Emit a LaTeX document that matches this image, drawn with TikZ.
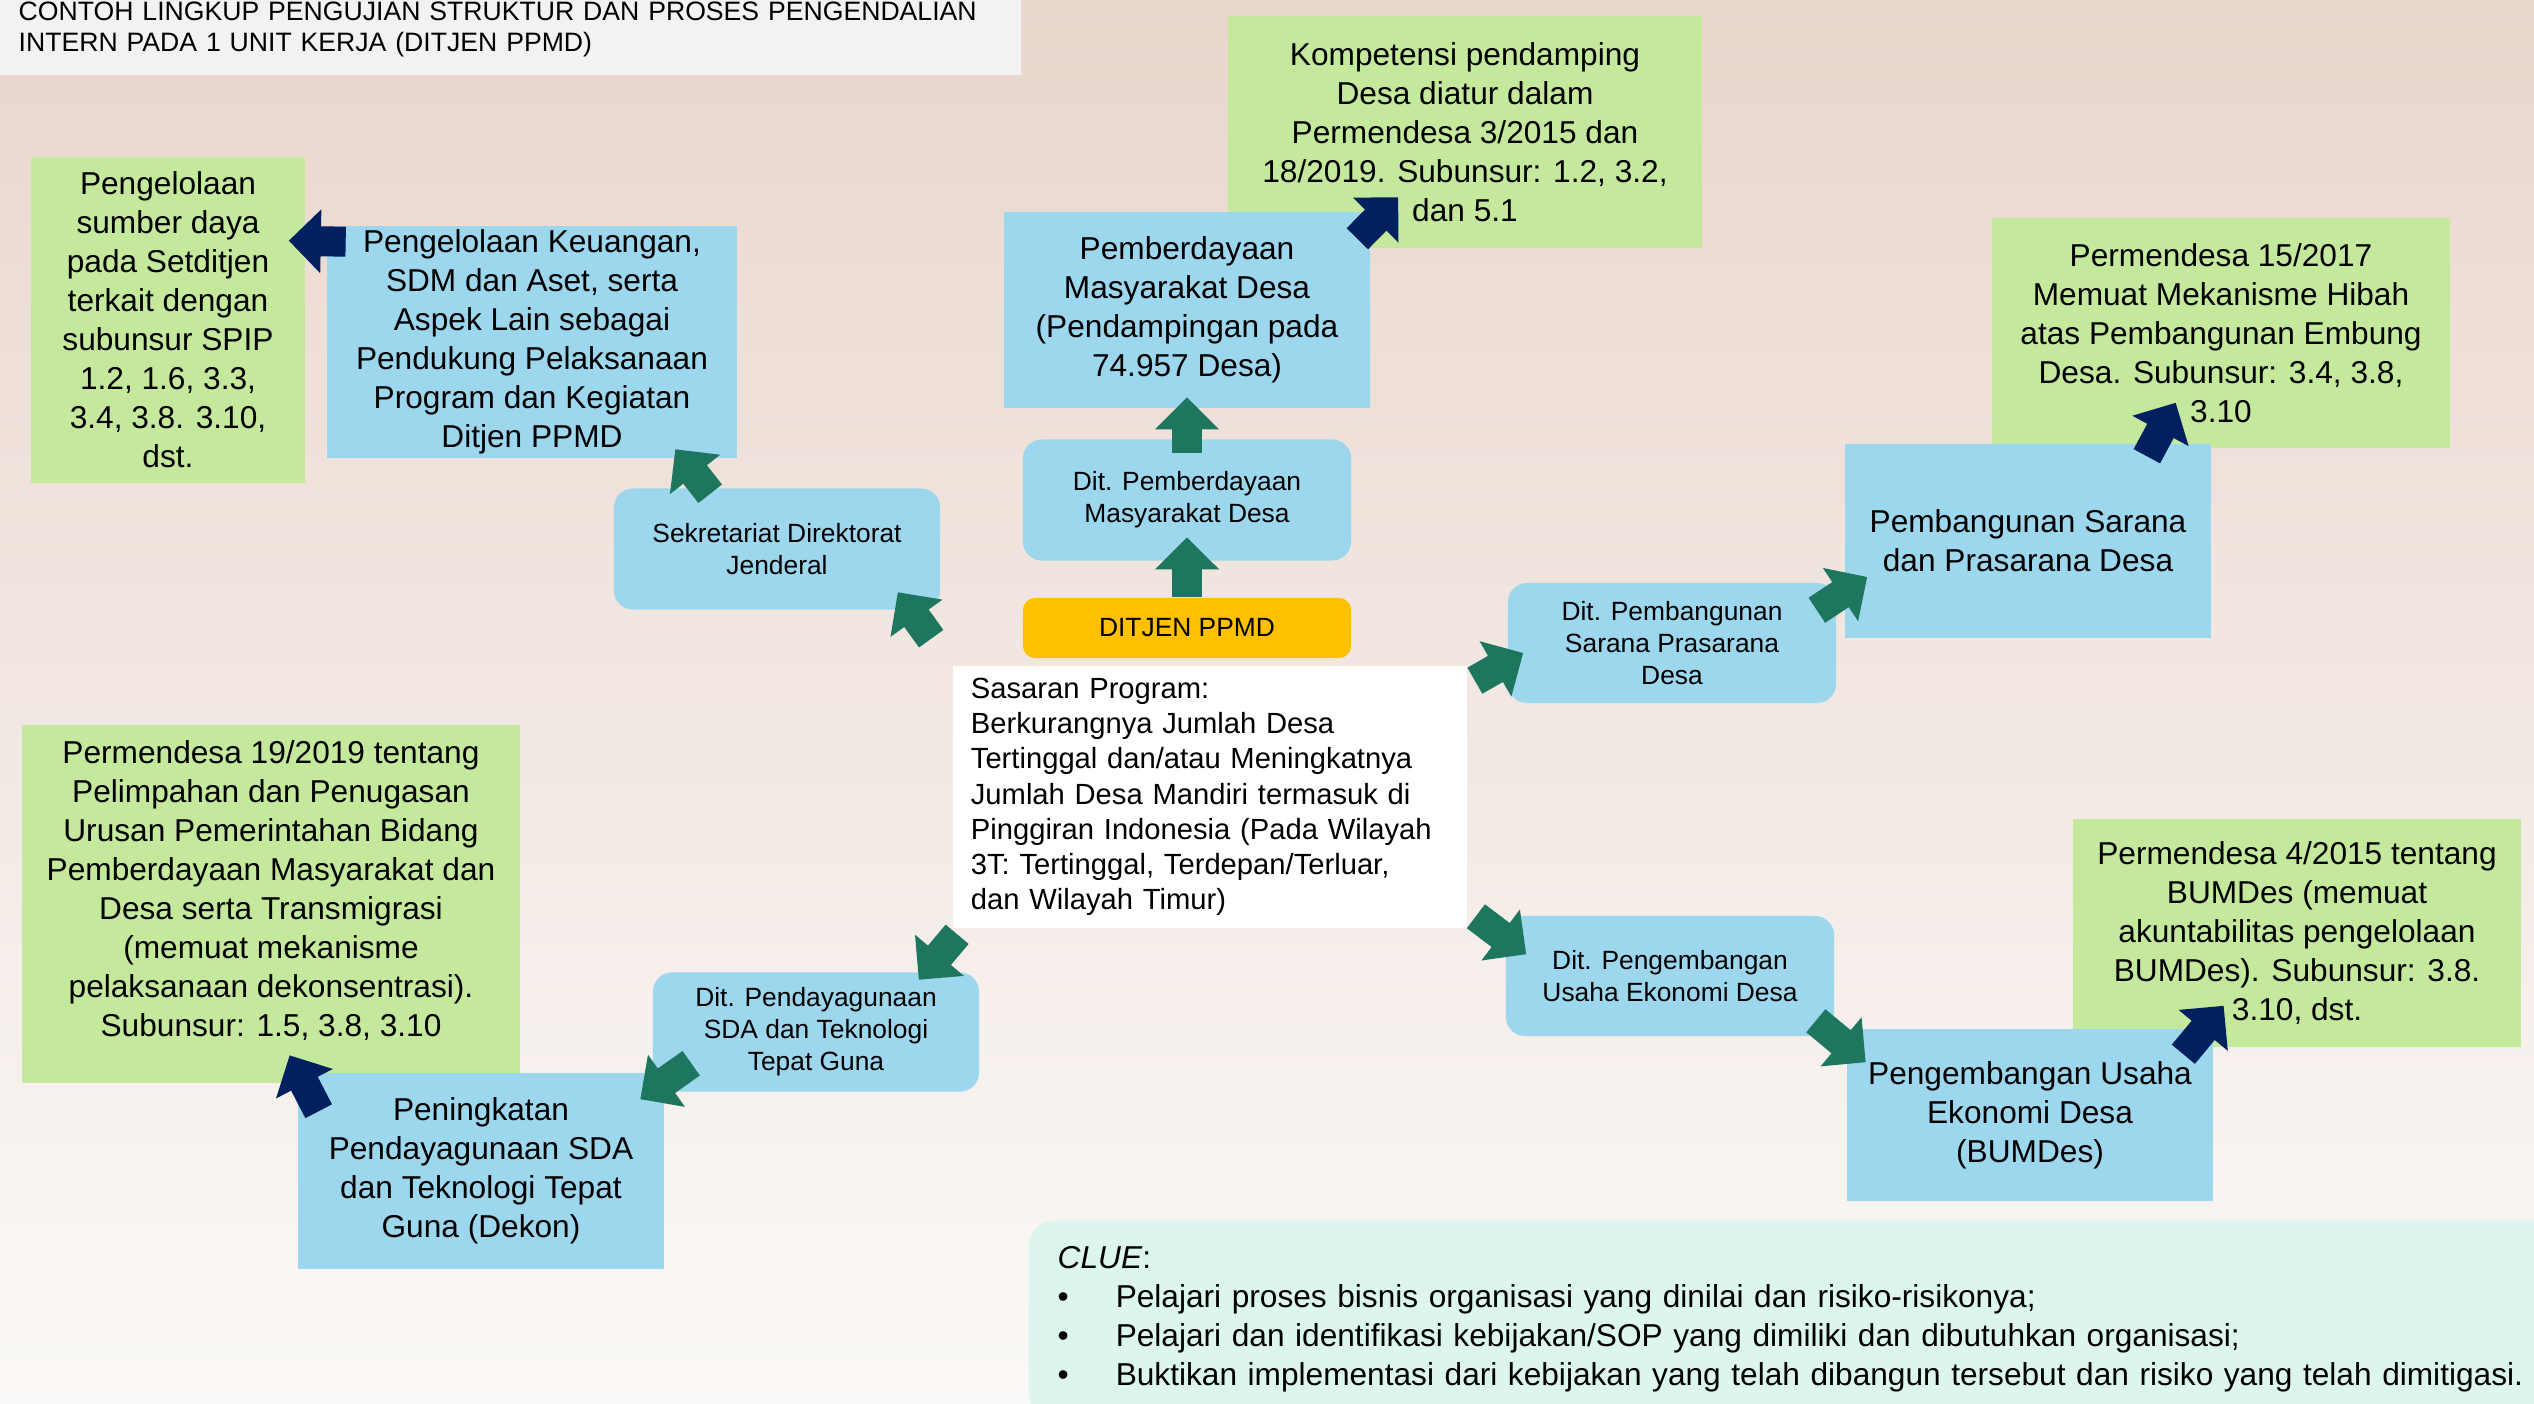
\documentclass[tikz,border=0pt]{standalone}
\usepackage{fontspec}
\setmainfont{Liberation Sans}
\usetikzlibrary{arrows.meta}

\definecolor{boxblue}{HTML}{9DD7EE}
\definecolor{boxgreen}{HTML}{C5E99C}
\definecolor{arrgreen}{HTML}{1E765F}
\definecolor{arrnavy}{HTML}{002060}
\definecolor{ditjenyellow}{HTML}{FFC000}
\definecolor{cluemint}{HTML}{DCF6EF}
\definecolor{titlegray}{HTML}{F2F2F2}
\definecolor{bgtop}{HTML}{E9D6CD}
\definecolor{bgmid}{HTML}{F8F3F0}
\definecolor{bgbot}{HTML}{FBF9F7}

\tikzset{
  bigtext/.style={font=\fontsize{9}{11.1}\selectfont, align=center, inner sep=0pt},
  goalbox/.style={bigtext, fill=boxblue},
  rulebox/.style={bigtext, fill=boxgreen},
  ditbox/.style={fill=boxblue, rounded corners=0.19cm, inner sep=0pt,
    font=\fontsize{7.5}{9.1}\selectfont, align=center},
  garrow/.style={draw=arrgreen, line width=0.3cm, -{Triangle[width=0.62cm,length=0.32cm]}},
  navyarrow/.style={garrow, draw=arrnavy},
}

\begin{document}
\begin{tikzpicture}[x=0.01cm, y=-0.01cm]
\clip (0,0) rectangle (2534,1404);
\fill[top color=bgtop, middle color=bgmid, bottom color=bgbot] (0,0) rectangle (2534,1404);

\node[fill=titlegray, minimum width=10.21cm, minimum height=0.91cm, text width=9.83cm,
  inner xsep=0.19cm, align=left, font=\fontsize{7.57}{8.8}\selectfont] (title) at (510.5,29.5)
  {CONTOH LINGKUP PENGUJIAN STRUKTUR DAN PROSES PENGENDALIAN\\INTERN PADA 1 UNIT KERJA (DITJEN PPMD)};

\node[rulebox, minimum width=2.74cm, minimum height=3.25cm] (sdaya) at (168,320)
  {Pengelolaan\\sumber daya\\pada Setditjen\\terkait dengan\\subunsur SPIP\\1.2, 1.6, 3.3,\\3.4, 3.8. 3.10,\\dst.};
\node[rulebox, minimum width=4.74cm, minimum height=2.31cm] (komp) at (1465,132)
  {Kompetensi pendamping\\Desa diatur dalam\\Permendesa 3/2015 dan\\18/2019. Subunsur: 1.2, 3.2,\\dan 5.1};
\node[rulebox, minimum width=4.57cm, minimum height=2.30cm] (hibah) at (2221,333)
  {Permendesa 15/2017\\Memuat Mekanisme Hibah\\atas Pembangunan Embung\\Desa. Subunsur: 3.4, 3.8,\\3.10};
\node[rulebox, minimum width=4.47cm, minimum height=2.28cm] (bumdes) at (2297,933)
  {Permendesa 4/2015 tentang\\BUMDes (memuat\\akuntabilitas pengelolaan\\BUMDes). Subunsur: 3.8.\\3.10, dst.};
\node[rulebox, minimum width=4.97cm, minimum height=3.57cm] (dekon) at (271,904)
  {Permendesa 19/2019 tentang\\Pelimpahan dan Penugasan\\Urusan Pemerintahan Bidang\\Pemberdayaan Masyarakat dan\\Desa serta Transmigrasi\\(memuat mekanisme\\pelaksanaan dekonsentrasi).\\Subunsur: 1.5, 3.8, 3.10\\[-0.08cm]\mbox{}};

\node[goalbox, minimum width=4.09cm, minimum height=2.31cm] (keu) at (532,342)
  {Pengelolaan Keuangan,\\SDM dan Aset, serta\\Aspek Lain sebagai\\Pendukung Pelaksanaan\\Program dan Kegiatan\\Ditjen PPMD};
\node[goalbox, minimum width=3.65cm, minimum height=1.95cm] (pmd) at (1187,310)
  {Pemberdayaan\\Masyarakat Desa\\(Pendampingan pada\\74.957 Desa)};
\node[goalbox, minimum width=3.66cm, minimum height=1.94cm] (sarana) at (2028,541)
  {Pembangunan Sarana\\dan Prasarana Desa};
\node[goalbox, minimum width=3.65cm, minimum height=1.72cm] (usaha) at (2030,1115)
  {Pengembangan Usaha\\Ekonomi Desa\\(BUMDes)};
\node[goalbox, minimum width=3.65cm, minimum height=1.96cm] (tepat) at (481,1171)
  {Peningkatan\\Pendayagunaan SDA\\dan Teknologi Tepat\\Guna (Dekon)};

\node[ditbox, minimum width=3.26cm, minimum height=1.21cm] (sekr) at (777,549)
  {Sekretariat Direktorat\\Jenderal};
\node[ditbox, minimum width=3.28cm, minimum height=1.21cm] (ditpmd) at (1187,500)
  {Dit. Pemberdayaan\\Masyarakat Desa};
\node[ditbox, minimum width=3.28cm, minimum height=1.20cm] (ditpsp) at (1672,643)
  {Dit. Pembangunan\\Sarana Prasarana\\Desa};
\node[ditbox, minimum width=3.28cm, minimum height=1.20cm] (ditpue) at (1670,976)
  {Dit. Pengembangan\\Usaha Ekonomi Desa};
\node[ditbox, minimum width=3.26cm, minimum height=1.19cm] (ditsda) at (816,1032)
  {Dit. Pendayagunaan\\SDA dan Teknologi\\Tepat Guna};
\node[ditbox, fill=ditjenyellow, rounded corners=0.12cm, minimum width=3.28cm, minimum height=0.60cm] (ditjen) at (1187,628)
  {DITJEN PPMD};

\node[fill=white, minimum width=5.14cm, minimum height=2.61cm, text width=4.78cm, inner xsep=0.18cm,
  align=left, font=\fontsize{8.3}{10}\selectfont] (sasaran) at (1210,797)
  {Sasaran Program:\\Berkurangnya Jumlah Desa\\Tertinggal dan/atau Meningkatnya\\Jumlah Desa Mandiri termasuk di\\Pinggiran Indonesia (Pada Wilayah\\3T: Tertinggal, Terdepan/Terluar,\\dan Wilayah Timur)};

\node[fill=cluemint, rounded corners=0.25cm, anchor=north west, text width=15.6cm, inner xsep=0.29cm,
  inner ysep=0.26cm, align=left, font=\fontsize{9}{11.1}\selectfont] (clue) at (1028,1220)
  {\textit{CLUE}:\\
   \makebox[0.58cm][l]{\textbullet}Pelajari proses bisnis organisasi yang dinilai dan risiko-risikonya;\\
   \makebox[0.58cm][l]{\textbullet}Pelajari dan identifikasi kebijakan/SOP yang dimiliki dan dibutuhkan organisasi;\\
   \makebox[0.58cm][l]{\textbullet}Buktikan implementasi dari kebijakan yang telah dibangun tersebut dan risiko yang telah dimitigasi.};

\draw[garrow] (ditjen.north) -- ([shift={(0,-24)}]ditpmd.south);
\draw[garrow] ([shift={(0,14)}]ditpmd.north) -- ([shift={(0,-11)}]pmd.south);
\draw[garrow] ([shift={(-21,-27)}]sasaran.north west) -- ([shift={(-43,-18)}]sekr.south east);
\draw[garrow] ([shift={(97,6)}]sekr.north west) -- ([shift={(-62,-9)}]keu.south east);
\draw[garrow] ([shift={(7,15)}]sasaran.north east) -- ([shift={(16,10)}]ditpsp.west);
\draw[garrow] ([shift={(-20,28)}]ditpsp.north east) -- ([shift={(23,36)}]sarana.west);
\draw[garrow] ([shift={(8,-12)}]sasaran.south east) -- ([shift={(21,39)}]ditpue.north west);
\draw[garrow] ([shift={(-19,-16)}]ditpue.south east) -- ([shift={(19,34)}]usaha.north west);
\draw[garrow] ([shift={(5,6)}]sasaran.south west) -- ([shift={(-61,8)}]ditsda.north east);
\draw[garrow] ([shift={(39,-29)}]ditsda.south west) -- ([shift={(-24,27)}]tepat.north east);

\draw[navyarrow] ([shift={(19,16)}]keu.north west) -- ([shift={(-17,84)}]sdaya.north east);
\draw[navyarrow] ([shift={(-13,27)}]pmd.north east) -- ([shift={(171,-51)}]komp.south west);
\draw[navyarrow] ([shift={(-65,13)}]sarana.north east) -- ([shift={(184,-46)}]hibah.south west);
\draw[navyarrow] ([shift={(21,39)}]tepat.north west) -- ([shift={(268,-28)}]dekon.south west);
\draw[navyarrow] ([shift={(-30,26)}]usaha.north east) -- ([shift={(151,-42)}]bumdes.south west);
\end{tikzpicture}
\end{document}
